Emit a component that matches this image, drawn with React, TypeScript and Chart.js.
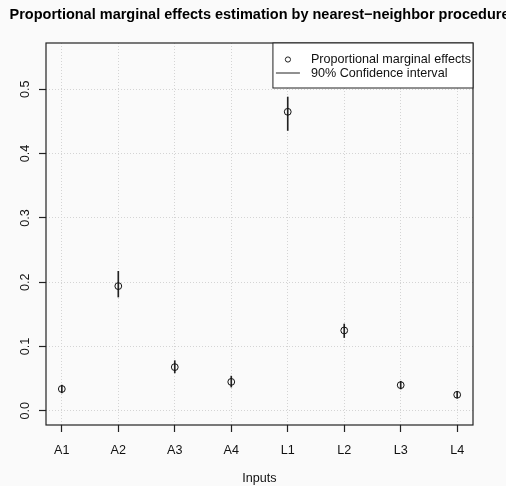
import { useEffect, useRef } from 'react';
import { Chart, registerables } from 'chart.js';

Chart.register(...registerables);

const categories = ['A1', 'A2', 'A3', 'A4', 'L1', 'L2', 'L3', 'L4'];
const effects = [0.034, 0.194, 0.068, 0.045, 0.465, 0.125, 0.040, 0.025];
const ciLower = [0.028, 0.177, 0.059, 0.037, 0.436, 0.114, 0.034, 0.020];
const ciUpper = [0.040, 0.217, 0.078, 0.054, 0.488, 0.135, 0.046, 0.030];
const yTicks = [0, 0.1, 0.2, 0.3, 0.4, 0.5];
const yLimits = [0, 0.55];
const titleText = 'Proportional marginal effects estimation by nearest\u2212neighbor procedure';
const xLabel = 'Inputs';
const legendLabels = ['Proportional marginal effects', '90% Confidence interval'];

const FONT = '"Liberation Sans", Arial, Helvetica, sans-serif';
const FS = 12.6;
const BG = '#fafafa';

const decor = {
  id: 'decor',
  beforeDraw(chart: any) {
    const { ctx, width, height } = chart;
    ctx.save();
    ctx.fillStyle = BG;
    ctx.fillRect(0, 0, width, height);
    ctx.restore();
  },
  afterDraw(chart: any) {
    const { ctx, chartArea: a } = chart;
    ctx.save();
    // plot box
    ctx.strokeStyle = '#222';
    ctx.lineWidth = 1.2;
    ctx.strokeRect(a.left, a.top, a.right - a.left, a.bottom - a.top);

    // title
    ctx.fillStyle = '#000';
    ctx.font = `bold 14.5px ${FONT}`;
    ctx.textAlign = 'center';
    ctx.textBaseline = 'middle';
    ctx.fillText(titleText, (a.left + a.right) / 2, 15);

    // legend
    ctx.font = `${FS}px ${FONT}`;
    const tw = Math.max(...legendLabels.map((t) => ctx.measureText(t).width));
    const textX = a.right - tw - 2;
    const boxL = textX - 38;
    const boxT = a.top;
    const boxH = 45;
    ctx.fillStyle = '#ffffff';
    ctx.fillRect(boxL, boxT, a.right - boxL, boxH);
    ctx.strokeStyle = '#222';
    ctx.lineWidth = 1;
    ctx.strokeRect(boxL, boxT, a.right - boxL, boxH);
    const r1 = boxT + 16.5;
    const r2 = boxT + 30.5;
    ctx.beginPath();
    ctx.arc(boxL + 15, r1, 2.6, 0, Math.PI * 2);
    ctx.stroke();
    ctx.beginPath();
    ctx.moveTo(boxL + 3, r2 - 0.5);
    ctx.lineTo(boxL + 27, r2 - 0.5);
    ctx.stroke();
    ctx.fillStyle = '#111';
    ctx.textAlign = 'left';
    ctx.fillText(legendLabels[0], textX, r1);
    ctx.fillText(legendLabels[1], textX, r2);
    ctx.restore();
  },
};

export default function App() {
  const ref = useRef<HTMLCanvasElement | null>(null);
  useEffect(() => {
    if (!ref.current) return;
    const n = categories.length;
    const xExt = (n - 1) * 0.04;
    const yExt = (yLimits[1] - yLimits[0]) * 0.04;
    const chart = new Chart(ref.current, {
      data: {
        datasets: [
          {
            type: 'scatter',
            label: legendLabels[0],
            data: effects.map((v, i) => ({ x: i, y: v })),
            pointStyle: 'circle',
            pointRadius: 3.4,
            pointBorderWidth: 1,
            pointBorderColor: '#111',
            pointBackgroundColor: 'rgba(0,0,0,0)',
            order: 0,
          } as any,
          {
            type: 'bar',
            label: legendLabels[1],
            data: ciLower.map((lo, i) => ({ x: i, y: [lo, ciUpper[i]] })),
            backgroundColor: '#222',
            borderWidth: 0,
            barThickness: 1,
            order: 1,
          } as any,
        ],
      },
      options: {
        animation: false,
        responsive: false,
        events: [],
        layout: { padding: { top: 43, right: 33, left: 0, bottom: 0 } },
        plugins: { legend: { display: false }, tooltip: { enabled: false }, title: { display: false } },
        scales: {
          x: {
            type: 'linear',
            offset: false,
            min: -xExt,
            max: n - 1 + xExt,
            afterBuildTicks: (s: any) => {
              s.ticks = categories.map((_, i) => ({ value: i }));
            },
            afterFit: (s: any) => {
              s.height = 61;
            },
            ticks: {
              callback: (v: any) => categories[Math.round(v)] ?? '',
              font: { family: FONT, size: FS },
              color: '#111',
              padding: 11,
              maxRotation: 0,
              autoSkip: false,
            },
            grid: {
              offset: false,
              color: '#d4d4d4',
              lineWidth: 1,
              drawTicks: true,
              tickLength: 7,
              tickColor: '#222',
              tickWidth: 1.2,
              tickBorderDash: [],
            },
            border: { display: false, dash: [1, 2] },
            title: {
              display: true,
              text: xLabel,
              font: { family: FONT, size: FS },
              color: '#111',
              padding: { top: 0, bottom: 0 },
            },
          },
          y: {
            type: 'linear',
            min: yLimits[0] - yExt,
            max: yLimits[1] + yExt,
            afterBuildTicks: (s: any) => {
              s.ticks = yTicks.map((v) => ({ value: v }));
            },
            afterFit: (s: any) => {
              s.width = 46;
            },
            ticks: {
              callback: (v: any) => Number(v).toFixed(1),
              font: { family: FONT, size: FS },
              color: '#111',
              padding: 5,
              minRotation: 90,
              maxRotation: 90,
              crossAlign: 'center',
            },
            grid: {
              color: '#d4d4d4',
              lineWidth: 1,
              drawTicks: true,
              tickLength: 7,
              tickColor: '#222',
              tickWidth: 1.2,
              tickBorderDash: [],
            },
            border: { display: false, dash: [1, 2] },
          },
        },
      } as any,
      plugins: [decor],
    });
    return () => chart.destroy();
  }, []);
  return (
    <div style={{ position: 'absolute', left: 0, top: 0, width: 506, height: 486, background: BG }}>
      <canvas ref={ref} width={506} height={486} style={{ display: 'block' }} />
    </div>
  );
}
